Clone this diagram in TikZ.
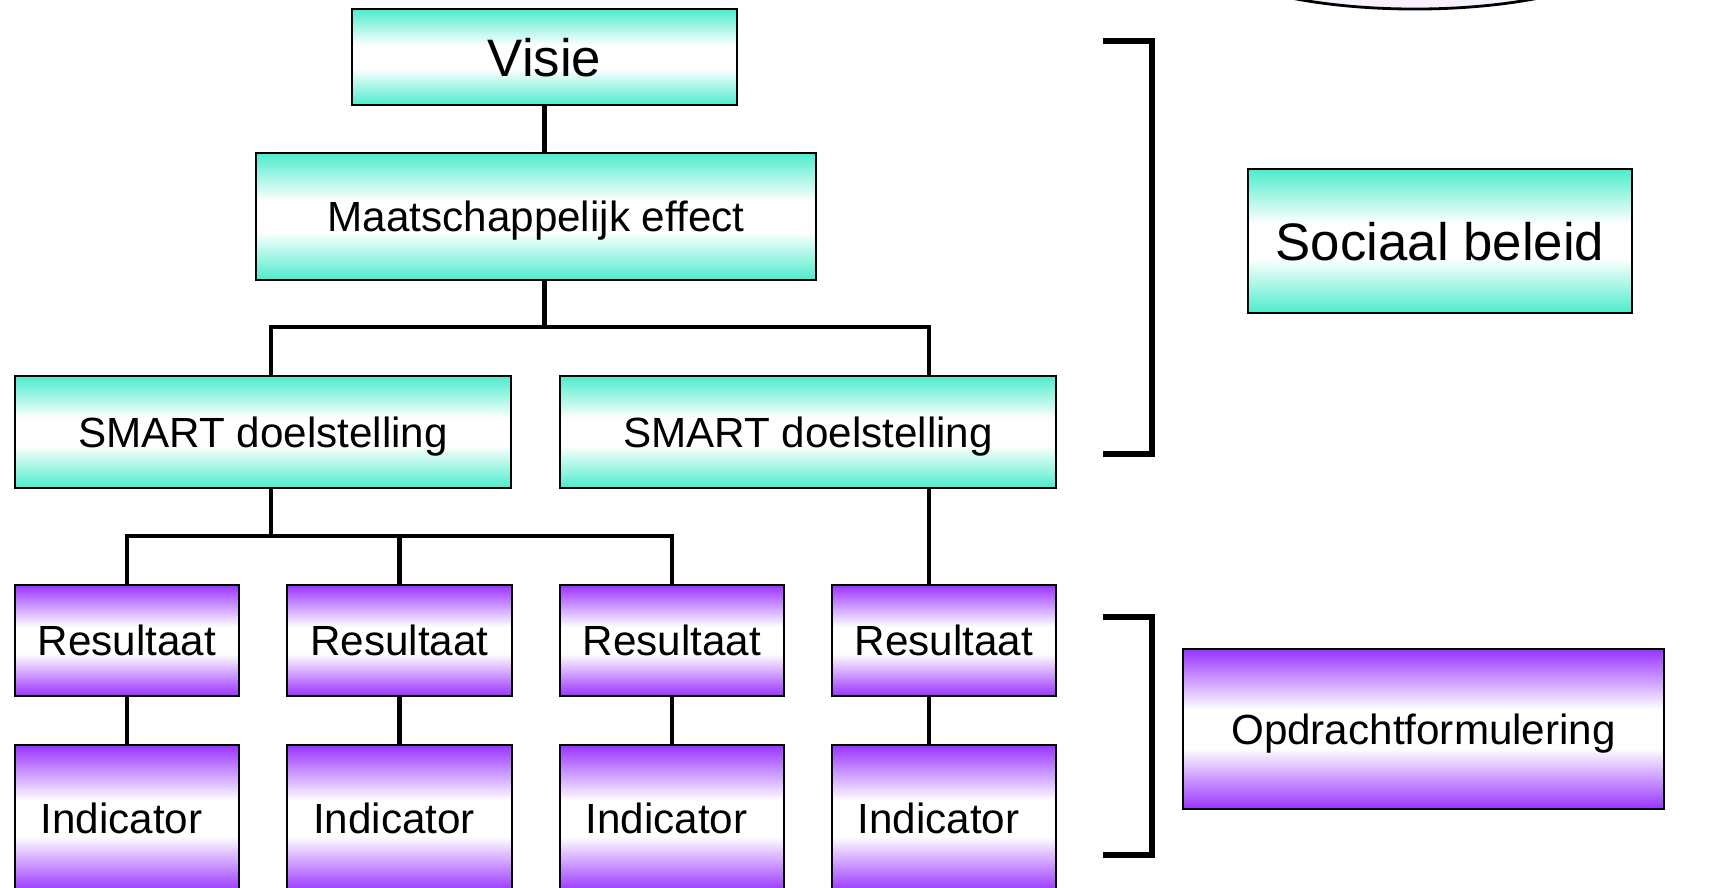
\documentclass[tikz,border=0pt]{standalone}
\usepackage{fontspec}
\setmainfont{Liberation Sans}
\usepackage{xcolor}

\definecolor{mint}{RGB}{76,236,204}
\definecolor{lilac}{RGB}{153,51,255}
\pgfdeclareverticalshading{mintfade}{100bp}{color(0bp)=(mint); color(25bp)=(mint); color(44bp)=(white); color(56bp)=(white); color(75bp)=(mint); color(100bp)=(mint)}
\pgfdeclareverticalshading{lilacfade}{100bp}{color(0bp)=(lilac); color(25bp)=(lilac); color(44bp)=(white); color(56bp)=(white); color(75bp)=(lilac); color(100bp)=(lilac)}

\begin{document}
\begin{tikzpicture}[x=0.01cm, y=-0.01cm,
        box/.style={draw, line width=0.6pt, inner sep=0pt, text depth=0pt, font=\fontsize{12}{14}\selectfont},
        tealbox/.style={box, shading=mintfade},
        purplebox/.style={box, shading=lilacfade},
        link/.style={line width=1.3pt},
        bracket/.style={line width=1.5pt, line join=miter}]
        \useasboundingbox (0,0) rectangle (1721,888);
        \clip (0,0) rectangle (1721,888);
        \fill[white] (0,0) rectangle (1721,888);
        \draw[line width=0.8pt, inner color=white, outer color=lilac!8] (1415,-61) ellipse [x radius=2.3cm, y radius=0.7cm];

        \node[tealbox, minimum width=3.85cm, minimum height=0.96cm, font=\fontsize{15}{18}\selectfont] (visie) at (544.5,57) {Visie};
        \node[tealbox, minimum width=5.6cm, minimum height=1.27cm] (effect) at (536,216.5) {Maatschappelijk effect};
        \node[tealbox, minimum width=4.96cm, minimum height=1.12cm] (smart1) at (263,432) {SMART doelstelling};
        \node[tealbox, minimum width=4.96cm, minimum height=1.12cm] (smart2) at (808,432) {SMART doelstelling};
        \node[tealbox, minimum width=3.84cm, minimum height=1.44cm, font=\fontsize{15}{18}\selectfont] (sociaal) at (1440,241) {Sociaal beleid};
        \node[purplebox, minimum width=4.81cm, minimum height=1.6cm] (opdracht) at (1423.5,729) {Opdrachtformulering};

        \foreach \i/\x in {1/127,2/399.5,3/672,4/944} {
            \node[purplebox, minimum width=2.24cm, minimum height=1.11cm] (res\i) at (\x,640.5) {Resultaat};
            \node[purplebox, minimum width=2.24cm, minimum height=1.47cm] (ind\i) at (\x,818.5) {Indicator\kern0.11cm};
        }

        \coordinate (stem1) at (271,327);
        \coordinate (stem2) at (929,327);
        \coordinate (fork) at (271,536);

        \draw[link] (visie.south) -- (visie.south |- effect.north);
        \draw[link] (effect.south -| visie.south) -- (visie.south |- stem1);
        \draw[link] (stem1 |- smart1.north) -- (stem1) -- (stem2) -- (stem2 |- smart2.north);
        \draw[link] (stem1 |- smart1.south) -- (fork);
        \draw[link] (res1.north) -- (res1.north |- fork) -- (res3.north |- fork) -- (res3.north);
        \draw[link] (res2.north) -- (res2.north |- fork);
        \draw[link] (stem2 |- smart2.south) -- (stem2 |- res4.north);
        \foreach \i in {1,2,3}
            \draw[link] (res\i.south) -- (ind\i.north);
        \draw[link] (stem2 |- res4.south) -- (stem2 |- ind4.north);

        \draw[bracket] (1103,41) -- (1152,41) -- (1152,454) -- (1103,454);
        \draw[bracket] (1103,617) -- (1152,617) -- (1152,855) -- (1103,855);
\end{tikzpicture}
\end{document}
